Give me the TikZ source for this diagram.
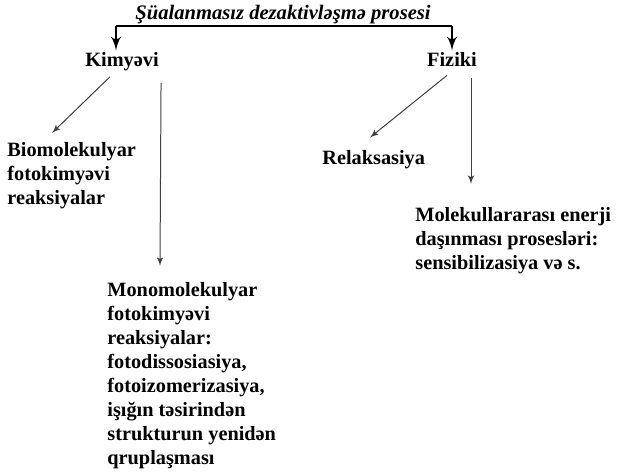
\documentclass[tikz,border=0pt]{standalone}
\usepackage{fontspec}
\setmainfont{Liberation Serif}
\usepackage{tikz}
\usetikzlibrary{arrows,calc}

\begin{document}
\begin{tikzpicture}[>=latex', x=0.5pt, y=-0.5pt]
	  \tikzset{txt/.style={font=\fontsize{10.15}{12}\selectfont\bfseries, inner sep=0pt, align=left},
	  	head/.style={font=\fontsize{10.3}{12}\selectfont\bfseries\itshape, inner sep=0pt},
	  	bracket/.style={line width=1.4pt},
	  	arr/.style={->, draw=black!75, line width=0.5pt},
	  }
	  \useasboundingbox (0,0) rectangle (617,475);
	  \node [head, anchor=base] (title) at (283,20) {Şüalanmasız dezaktivləşmə prosesi};
	  \node [txt, anchor=base] (kim) at (122,67) {Kimyəvi};
	  \node [txt, anchor=base] (fiz) at (452,67) {Fiziki};
	  \node [txt, anchor=north west] (bio) at (7,142) {Biomolekulyar\\fotokimyəvi\\reaksiyalar};
	  \node [txt, anchor=north west] (mono) at (107,282) {Monomolekulyar\\fotokimyəvi\\reaksiyalar:\\fotodissosiasiya,\\fotoizomerizasiya,\\işığın təsirindən\\strukturun yenidən\\qruplaşması};
	  \node [txt, anchor=base west] (rel) at (322,165) {Relaksasiya};
	  \node [txt, anchor=north west] (mol) at (415,207) {Molekullararası enerji\\daşınması prosesləri:\\sensibilizasiya və s.};

	  %% bracket
	  \coordinate (bl) at ($(title.base)+(-167,6)$);
	  \coordinate (br) at ($(title.base)+(169,6)$);
	  \draw[bracket] (bl) -- (br);
	  \draw[bracket,->] (bl) -- ($(bl |- kim.north)+(0,-2)$);
	  \draw[bracket,->] (br) -- ($(br |- fiz.north)+(0,-2)$);

	  %% paths
	  \draw[arr] ($(kim.south)+(-12,5)$) -- ($(bio.north west)+(45,-9)$);
	  \draw[arr] ($(kim.south east)+(2,11)$) -- ($(mono.north west)+(53,-16)$);
	  \draw[arr] ($(fiz.south)+(-5,8)$) -- ($(rel.north west)+(48,-13)$);
	  \draw[arr] ($(fiz.south)+(19,11)$) -- ($(mol.north west)+(56,-23)$);
\end{tikzpicture}
\end{document}
